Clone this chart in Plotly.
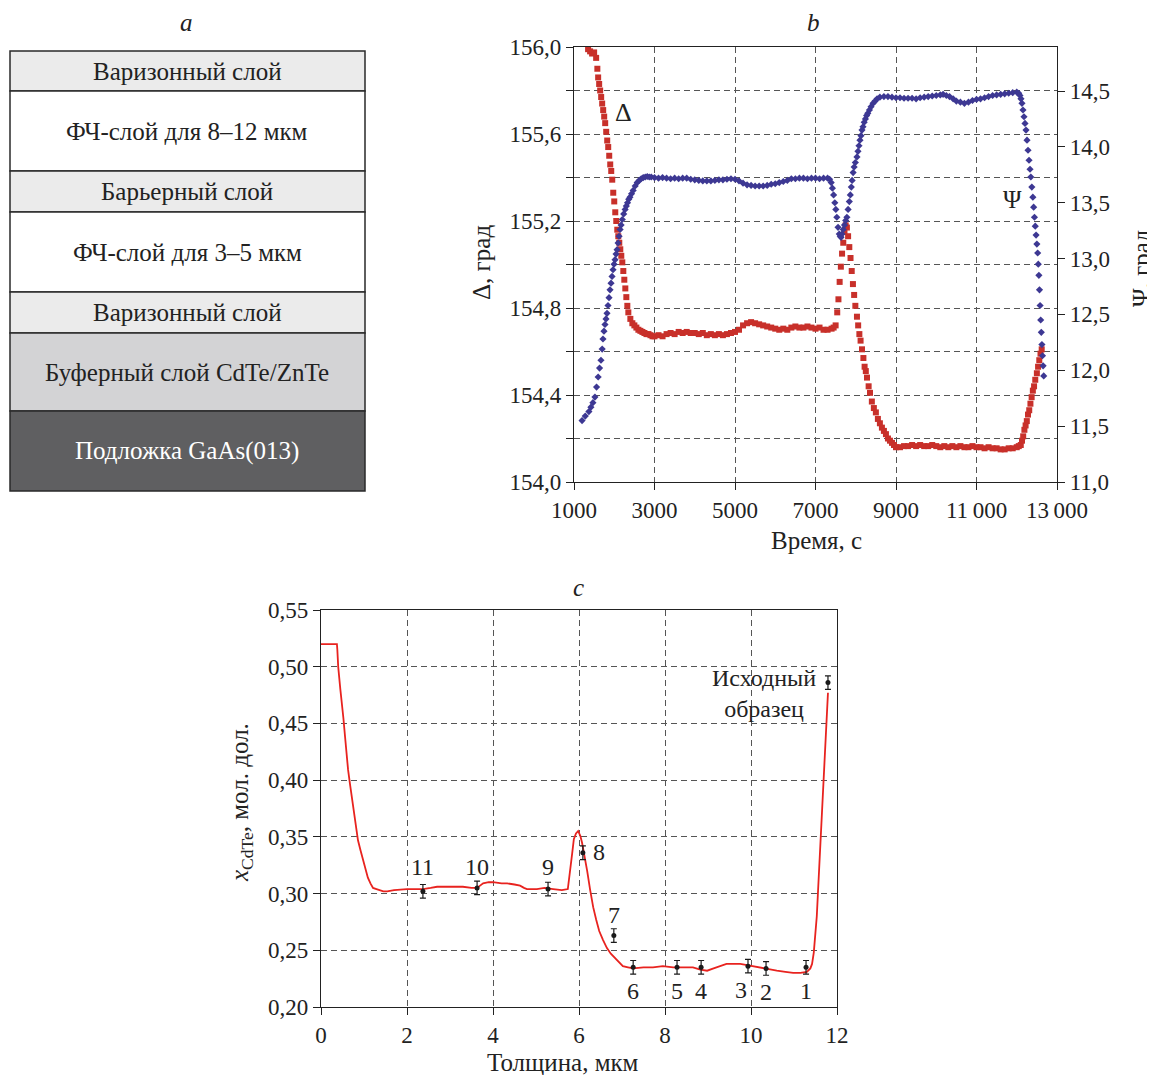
import plotly.graph_objects as go

# ---------------- Panel a: layer stack ----------------
LAYER_NAMES = [
    "Варизонный слой",
    "ФЧ-слой для 8–12 мкм",
    "Барьерный слой",
    "ФЧ-слой для 3–5 мкм",
    "Варизонный слой",
    "Буферный слой CdTe/ZnTe",
    "Подложка GaAs(013)",
]
LAYER_FILL = ["#ebebeb", "#ffffff", "#ebebeb", "#ffffff", "#ebebeb", "#d3d3d5", "#5f5f61"]
LAYER_TEXT = ["#222222"] * 6 + ["#ffffff"]
LAYER_EDGES_PX = [51, 91, 171, 212, 292, 333, 411, 491]

# ---------------- Panel b: ellipsometry ----------------
DELTA_T = [1350, 1400, 1450, 1500, 1550, 1580, 1600, 1625, 1650, 1675, 1700, 1725, 1750, 1775,
           1800, 1825, 1850, 1875, 1900, 1925, 1950, 1975, 2000, 2025, 2050, 2075, 2100, 2125,
           2150, 2175, 2200, 2225, 2250, 2275, 2300, 2325, 2350, 2400, 2450, 2500, 2550, 2600,
           2650, 2700, 2750, 2800, 2850, 2900, 2950, 3000,
           3100, 3200, 3300, 3400, 3500, 3600, 3700, 3800, 3900, 4000, 4100, 4200, 4300, 4400,
           4500, 4600, 4700, 4800, 4900, 5000, 5100, 5200, 5300, 5400, 5500, 5600, 5700, 5800,
           5900, 6000, 6100, 6200, 6300, 6400, 6500, 6600, 6700, 6800, 6900, 7000, 7100, 7200,
           7300, 7400, 7450, 7500,
           7540, 7570, 7600, 7630, 7660, 7690, 7720, 7750, 7780, 7810, 7840, 7870, 7900, 7930,
           7960, 7990, 8030, 8060, 8090, 8120, 8155, 8190, 8220, 8250, 8280, 8320, 8354, 8400,
           8450, 8500, 8550, 8600, 8650, 8700, 8750, 8800, 8850, 8900, 8950, 9000,
           9100, 9200, 9300, 9400, 9500, 9600, 9700, 9800, 9900, 10000, 10100, 10200, 10300,
           10400, 10500, 10600, 10700, 10800, 10900, 11000, 11100, 11200, 11300, 11400, 11500,
           11600, 11700, 11800, 11900, 12000, 12050, 12100,
           12130, 12160, 12190, 12220, 12250, 12280, 12310, 12340, 12370, 12400, 12430, 12460,
           12500, 12530, 12560, 12590, 12620]
DELTA_V = [155.99, 155.98, 155.97, 155.975, 155.95, 155.90, 155.86, 155.83, 155.80, 155.77,
           155.74, 155.71, 155.68, 155.65, 155.61, 155.57, 155.54, 155.50, 155.46, 155.43,
           155.39, 155.33, 155.29, 155.24, 155.20, 155.16, 155.13, 155.10, 155.07, 155.04,
           155.01, 154.97, 154.93, 154.89, 154.85, 154.81, 154.78, 154.75, 154.73, 154.72,
           154.71, 154.70, 154.695, 154.69, 154.685, 154.68, 154.68, 154.675, 154.67, 154.67,
           154.675, 154.67, 154.68, 154.685, 154.68, 154.69, 154.685, 154.69, 154.685, 154.685,
           154.68, 154.685, 154.675, 154.68, 154.675, 154.68, 154.675, 154.68, 154.685, 154.69,
           154.70, 154.72, 154.73, 154.735, 154.73, 154.725, 154.72, 154.715, 154.71, 154.705,
           154.70, 154.705, 154.70, 154.71, 154.715, 154.71, 154.71, 154.715, 154.71, 154.705,
           154.71, 154.70, 154.70, 154.705, 154.71, 154.72,
           154.78, 154.84, 154.92, 154.99, 155.05, 155.10, 155.15, 155.18, 155.17, 155.13,
           155.08, 155.03, 154.97, 154.91, 154.86, 154.81, 154.76, 154.72, 154.68, 154.65,
           154.61, 154.57, 154.53, 154.51, 154.48, 154.44, 154.41, 154.37, 154.34, 154.32,
           154.29, 154.27, 154.25, 154.235, 154.22, 154.20, 154.19, 154.18, 154.17, 154.16,
           154.16, 154.165, 154.165, 154.17, 154.165, 154.17, 154.165, 154.165, 154.17, 154.165,
           154.16, 154.165, 154.16, 154.165, 154.16, 154.165, 154.16, 154.16, 154.165, 154.16,
           154.16, 154.155, 154.16, 154.155, 154.155, 154.15, 154.15, 154.155, 154.155, 154.16,
           154.165, 154.17,
           154.19, 154.21, 154.24, 154.26, 154.28, 154.31, 154.33, 154.36, 154.39, 154.42,
           154.44, 154.47, 154.50, 154.53, 154.56, 154.59, 154.61]

PSI_T = [1200, 1280, 1370, 1420, 1470, 1520, 1560, 1600, 1635, 1670, 1700, 1720, 1745, 1770,
         1795, 1820, 1845, 1870, 1895, 1920, 1945, 1970, 1995, 2020, 2045, 2070, 2095, 2120,
         2145, 2170, 2200, 2235, 2270, 2300, 2330, 2360, 2390, 2430, 2470, 2520, 2570, 2620,
         2670, 2720, 2770, 2820, 2870, 2920, 3000,
         3100, 3200, 3300, 3400, 3500, 3600, 3700, 3800, 3900, 4000, 4100, 4200, 4300, 4400,
         4500, 4600, 4700, 4800, 4900, 5000, 5100, 5200, 5300, 5400, 5500, 5600, 5700, 5800,
         5900, 6000, 6100, 6200, 6300, 6400, 6500, 6600, 6700, 6800, 6900, 7000, 7100, 7200,
         7300, 7350, 7390, 7420, 7450, 7480, 7505, 7530, 7560, 7590, 7615, 7635, 7660, 7690,
         7720, 7750, 7780, 7810, 7840, 7865, 7890, 7910, 7935, 7960, 7990, 8030, 8055, 8080,
         8105, 8130, 8155, 8180, 8210, 8240, 8270, 8300, 8340, 8380, 8430, 8480, 8530, 8600,
         8700, 8800, 8900, 9000, 9100, 9200, 9300, 9400, 9500, 9600, 9700, 9800, 9900, 10000,
         10100, 10170, 10250, 10330, 10420, 10500, 10600, 10700, 10800, 10900, 11000, 11100,
         11200, 11300, 11400, 11500, 11600, 11700, 11800, 11900, 12000, 12050, 12080, 12105,
         12130, 12155, 12180, 12205, 12230, 12255, 12280, 12305, 12330, 12350, 12375, 12400,
         12420, 12440, 12460, 12480, 12500, 12520, 12535, 12550, 12565, 12580, 12595, 12610,
         12625, 12640, 12655, 12670]
PSI_V = [11.55, 11.59, 11.63, 11.67, 11.71, 11.76, 11.85, 11.94, 12.02, 12.09, 12.19, 12.28,
         12.35, 12.41, 12.46, 12.51, 12.58, 12.65, 12.72, 12.78, 12.84, 12.90, 12.95, 12.99,
         13.04, 13.08, 13.14, 13.20, 13.26, 13.30, 13.35, 13.40, 13.44, 13.47, 13.50, 13.53,
         13.55, 13.58, 13.61, 13.65, 13.68, 13.70, 13.715, 13.725, 13.73, 13.735, 13.73, 13.73,
         13.725,
         13.72, 13.725, 13.72, 13.715, 13.72, 13.715, 13.72, 13.72, 13.71, 13.705, 13.70,
         13.695, 13.695, 13.695, 13.70, 13.705, 13.705, 13.71, 13.715, 13.71, 13.695, 13.675,
         13.66, 13.655, 13.65, 13.65, 13.65, 13.655, 13.665, 13.67, 13.68, 13.69, 13.70,
         13.715, 13.715, 13.72, 13.72, 13.715, 13.72, 13.72, 13.715, 13.72,
         13.72, 13.71, 13.68, 13.63, 13.57, 13.50, 13.44, 13.37, 13.28, 13.22, 13.20, 13.19,
         13.22, 13.26, 13.30, 13.34, 13.37, 13.44, 13.51, 13.57, 13.64, 13.70, 13.77, 13.82,
         13.86, 13.91, 13.96, 14.01, 14.06, 14.10, 14.15, 14.18, 14.22, 14.25, 14.28, 14.30,
         14.33, 14.36, 14.39, 14.41, 14.43, 14.445,
         14.45, 14.45, 14.445, 14.44, 14.44, 14.435, 14.435, 14.435, 14.43, 14.44, 14.445,
         14.45, 14.455, 14.46, 14.465, 14.47, 14.46, 14.45, 14.43, 14.41, 14.40, 14.39, 14.40,
         14.415, 14.425, 14.43, 14.44, 14.45, 14.46, 14.465, 14.47, 14.475, 14.48, 14.485,
         14.49, 14.48, 14.46, 14.43,
         14.39, 14.33, 14.27, 14.21, 14.15, 14.06, 13.97, 13.88, 13.80, 13.73, 13.64, 13.55,
         13.46, 13.37, 13.29, 13.21, 13.13, 13.05, 12.95, 12.85, 12.72, 12.58, 12.45, 12.34,
         12.23, 12.13, 12.04, 11.95]

B_XTICKS = [1000, 3000, 5000, 7000, 9000, 11000, 13000]
B_XTICKTEXT = ["1000", "3000", "5000", "7000", "9000", "11\u2009000", "13\u2009000"]
B_YTICKS = [154.0, 154.4, 154.8, 155.2, 155.6, 156.0]
B_YTICKTEXT = ["154,0", "154,4", "154,8", "155,2", "155,6", "156,0"]
B_YMINOR = [154.2, 154.6, 155.0, 155.4, 155.8]
B_Y2TICKS = [11.0, 11.5, 12.0, 12.5, 13.0, 13.5, 14.0, 14.5]
B_Y2TICKTEXT = ["11,0", "11,5", "12,0", "12,5", "13,0", "13,5", "14,0", "14,5"]

# ---------------- Panel c: composition profile ----------------
THICK = [0.00, 0.37, 0.38, 0.40, 0.45, 0.49, 0.52, 0.56, 0.60, 0.63, 0.68, 0.72, 0.76, 0.79,
         0.86, 0.92, 0.98, 1.04, 1.09, 1.15, 1.21, 1.29, 1.37, 1.45, 1.54, 1.70, 2.00, 2.20,
         2.37, 2.55, 2.70, 2.90, 3.07, 3.30, 3.50, 3.63, 3.70, 3.77, 3.90, 4.00, 4.20, 4.33,
         4.50, 4.63, 4.72, 4.79, 5.02, 5.20, 5.40, 5.60, 5.74, 5.80, 5.84, 5.88, 5.93, 5.98,
         6.03, 6.07, 6.13, 6.19, 6.26, 6.33, 6.40, 6.47, 6.56, 6.65, 6.74, 6.84, 6.93, 7.02,
         7.14, 7.26, 7.50, 7.72, 7.95, 8.19, 8.40, 8.65, 8.82, 8.98, 9.13, 9.28, 9.43, 9.58,
         9.75, 9.91, 10.05, 10.21, 10.40, 10.60, 10.80, 10.98, 11.15, 11.30, 11.38, 11.42,
         11.46, 11.49, 11.53, 11.56, 11.60, 11.65, 11.69, 11.72, 11.76, 11.79]
XCDTE = [0.520, 0.520, 0.515, 0.500, 0.480, 0.468, 0.455, 0.438, 0.420, 0.409, 0.395, 0.385,
         0.375, 0.365, 0.347, 0.338, 0.330, 0.321, 0.314, 0.309, 0.305, 0.304, 0.303, 0.302,
         0.302, 0.303, 0.304, 0.304, 0.304, 0.305, 0.306, 0.306, 0.306, 0.306, 0.305, 0.305,
         0.307, 0.309, 0.310, 0.310, 0.309, 0.309, 0.308, 0.307, 0.305, 0.304, 0.304, 0.305,
         0.304, 0.303, 0.304, 0.320, 0.335, 0.348, 0.353, 0.355, 0.351, 0.345, 0.333, 0.320,
         0.303, 0.288, 0.277, 0.267, 0.259, 0.252, 0.247, 0.243, 0.239, 0.236, 0.235, 0.234,
         0.235, 0.235, 0.236, 0.235, 0.235, 0.235, 0.233, 0.232, 0.234, 0.236, 0.238, 0.238,
         0.238, 0.237, 0.236, 0.235, 0.233, 0.232, 0.231, 0.230, 0.230, 0.231, 0.234, 0.238,
         0.248, 0.259, 0.280, 0.303, 0.333, 0.362, 0.392, 0.420, 0.450, 0.477]

PT_X = [11.28, 10.35, 9.93, 8.84, 8.28, 7.26, 6.81, 6.09, 5.28, 3.63, 2.37, 11.79]
PT_Y = [0.235, 0.234, 0.236, 0.235, 0.235, 0.235, 0.263, 0.336, 0.304, 0.305, 0.302, 0.486]
PT_ERR = [0.006] * 12
PT_LABELS = ["1", "2", "3", "4", "5", "6", "7", "8", "9", "10", "11", "Исходный<br>образец"]

C_XTICKS = [0, 2, 4, 6, 8, 10, 12]
C_XTICKTEXT = ["0", "2", "4", "6", "8", "10", "12"]
C_YTICKS = [0.20, 0.25, 0.30, 0.35, 0.40, 0.45, 0.50, 0.55]
C_YTICKTEXT = ["0,20", "0,25", "0,30", "0,35", "0,40", "0,45", "0,50", "0,55"]

# ---------------- styling ----------------
OFF = 8                       # the page body has an 8 px margin
W, H = 1155 - OFF, 1075 - OFF
FONT = "Liberation Serif"
INK = "#222222"
TICKSIZE = 23
TXT = 25
RED_B = "#c8302a"
BLUE_B = "#3d3893"
RED_C = "#e8231f"
GRID = dict(gridcolor="#555555", gridwidth=1, griddash="6px,4px")


def px(x):
    return (x - OFF) / W


def py(y):
    return 1 - (y - OFF) / H


fig = go.Figure()

fig.add_trace(go.Scatter(x=DELTA_T, y=DELTA_V, mode="markers", xaxis="x", yaxis="y",
                         marker=dict(symbol="square", size=6, color=RED_B, line=dict(width=0)),
                         showlegend=False))
fig.add_trace(go.Scatter(x=PSI_T, y=PSI_V, mode="markers", xaxis="x", yaxis="y2",
                         marker=dict(symbol="diamond", size=5.5, color=BLUE_B, line=dict(width=0)),
                         showlegend=False))

fig.add_trace(go.Scatter(x=THICK, y=XCDTE, mode="lines", xaxis="x2", yaxis="y3",
                         line=dict(color=RED_C, width=1.8), showlegend=False))
fig.add_trace(go.Scatter(x=PT_X, y=PT_Y, mode="markers", xaxis="x2", yaxis="y3",
                         marker=dict(symbol="circle", size=5, color="#1a1a1a"),
                         error_y=dict(type="data", array=PT_ERR, visible=True,
                                      color="#1a1a1a", thickness=1.2, width=3),
                         showlegend=False))

axis_common = dict(showline=True, linecolor=INK, linewidth=1.2, ticks="outside", ticklen=7,
                   tickcolor=INK, tickwidth=1.2, zeroline=False, automargin=False,
                   tickfont=dict(family=FONT, size=TICKSIZE, color=INK), **GRID)

b_dom_x = [px(574), px(1057)]
b_dom_y = [py(482), py(47)]
c_dom_x = [px(321), px(837)]
c_dom_y = [py(1007), py(610)]

fig.update_layout(
    width=W, height=H, autosize=False,
    margin=dict(l=0, r=0, t=0, b=0, pad=0, autoexpand=False),
    paper_bgcolor="white", plot_bgcolor="white",
    font=dict(family=FONT, color=INK),
    showlegend=False,
    xaxis=dict(axis_common, domain=b_dom_x, anchor="y", range=[1000, 13000],
               tickvals=B_XTICKS, ticktext=B_XTICKTEXT, showgrid=True, mirror=True),
    yaxis=dict(axis_common, domain=b_dom_y, anchor="x", range=[154.0, 156.0],
               tickvals=B_YTICKS, ticktext=B_YTICKTEXT, showgrid=True,
               minor=dict(tickmode="array", tickvals=B_YMINOR, ticks="outside", ticklen=7,
                          tickcolor=INK, tickwidth=1.2, showgrid=True, **GRID)),
    yaxis2=dict(axis_common, overlaying="y", side="right", anchor="x",
                range=[11.0, 14.894], tickvals=B_Y2TICKS, ticktext=B_Y2TICKTEXT,
                showgrid=False),
    xaxis2=dict(axis_common, domain=c_dom_x, anchor="y3", range=[0, 12],
                tickvals=C_XTICKS, ticktext=C_XTICKTEXT, showgrid=True, mirror=True),
    yaxis3=dict(axis_common, domain=c_dom_y, anchor="x2", range=[0.20, 0.55],
                tickvals=C_YTICKS, ticktext=C_YTICKTEXT, showgrid=True, mirror=True),
)

shapes = []
annotations = []

# panel a
for i, name in enumerate(LAYER_NAMES):
    y0, y1 = LAYER_EDGES_PX[i], LAYER_EDGES_PX[i + 1]
    shapes.append(dict(type="rect", xref="paper", yref="paper",
                       x0=px(10), x1=px(365), y0=py(y1), y1=py(y0),
                       fillcolor=LAYER_FILL[i], line=dict(color="#2a2a2a", width=1.5),
                       layer="below"))
    annotations.append(dict(xref="paper", yref="paper", x=px(187), y=py((y0 + y1) / 2),
                            text=name, showarrow=False, xanchor="center", yanchor="middle",
                            font=dict(family=FONT, size=TXT, color=LAYER_TEXT[i])))

# panel letters
for letter, (lx, ly) in zip(["a", "b", "c"], [(186, 22), (813, 22), (578, 587)]):
    annotations.append(dict(xref="paper", yref="paper", x=px(lx), y=py(ly),
                            text="<i>%s</i>" % letter, showarrow=False,
                            xanchor="center", yanchor="middle",
                            font=dict(family=FONT, size=TXT, color=INK)))

# axis titles
title_font = dict(family=FONT, size=TXT, color=INK)
annotations += [
    dict(xref="paper", yref="paper", x=px(481), y=py(263), text="Δ, град", textangle=-90,
         showarrow=False, xanchor="center", yanchor="middle", font=title_font),
    dict(xref="paper", yref="paper", x=px(1141), y=py(268), text="Ψ, град", textangle=-90,
         showarrow=False, xanchor="center", yanchor="middle", font=title_font),
    dict(xref="paper", yref="paper", x=px(816), y=py(540), text="Время, с",
         showarrow=False, xanchor="center", yanchor="middle", font=title_font),
    dict(xref="paper", yref="paper", x=px(241), y=py(803),
         text="<i>x</i><sub>CdTe</sub>, мол. дол.", textangle=-90,
         showarrow=False, xanchor="center", yanchor="middle", font=title_font),
    dict(xref="paper", yref="paper", x=px(563), y=py(1062), text="Толщина, мкм",
         showarrow=False, xanchor="center", yanchor="middle", font=title_font),
]

# series labels in panel b
annotations += [
    dict(xref="x", yref="y", x=2242, y=155.70, text="Δ", showarrow=False,
         font=dict(family=FONT, size=26, color=INK)),
    dict(xref="x", yref="y", x=11905, y=155.30, text="Ψ", showarrow=False,
         font=dict(family=FONT, size=TXT, color=INK)),
]

# point labels in panel c: (xshift, yshift, xanchor)
LABEL_OFFSETS = [(0, -24, "center"), (0, -24, "center"), (-7, -24, "center"),
                 (0, -24, "center"), (0, -24, "center"), (0, -24, "center"),
                 (0, 21, "center"), (8, 1, "left"), (0, 22, "center"),
                 (0, 21, "center"), (0, 24, "center"), (-10, -11, "right")]
for xv, yv, lab, (dx, dy, xa) in zip(PT_X, PT_Y, PT_LABELS, LABEL_OFFSETS):
    annotations.append(dict(xref="x2", yref="y3", x=xv, y=yv, text=lab, showarrow=False,
                            xshift=dx, yshift=dy, xanchor=xa, yanchor="middle",
                            align="center",
                            font=dict(family=FONT, size=24, color=INK)))

fig.update_layout(shapes=shapes, annotations=annotations)

fig.write_html("out.html")
